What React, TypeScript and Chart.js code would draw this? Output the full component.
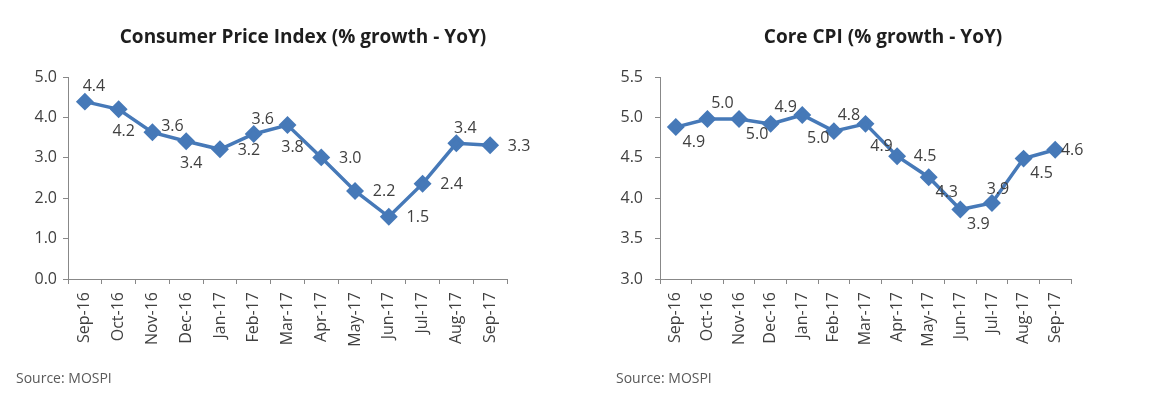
import React, { useEffect, useRef } from "react";
import { Chart, registerables } from "chart.js";
Chart.register(...registerables);

const MONTHS = ["Sep-16", "Oct-16", "Nov-16", "Dec-16", "Jan-17", "Feb-17", "Mar-17", "Apr-17", "May-17", "Jun-17", "Jul-17", "Aug-17", "Sep-17"];
const CPI_VALUES = [4.39, 4.2, 3.63, 3.41, 3.21, 3.59, 3.81, 3.01, 2.18, 1.54, 2.36, 3.36, 3.31];
const CORE_VALUES = [4.88, 4.98, 4.98, 4.92, 5.03, 4.83, 4.92, 4.52, 4.26, 3.86, 3.94, 4.49, 4.6];
const CPI_TICKS = [0, 1, 2, 3, 4, 5];
const CORE_TICKS = [3.0, 3.5, 4.0, 4.5, 5.0, 5.5];
const CPI_LABEL_POS = ["a", "b", "ar", "b", "r", "a", "b", "r", "r", "r", "r", "a", "r"];
const CORE_LABEL_POS = ["br", "a", "br", "a", "b", "a", "b", "r", "br", "br", "al", "br", "rs"];
const CPI_TITLE = "Consumer Price Index (% growth - YoY)";
const CORE_TITLE = "Core CPI (% growth - YoY)";
const SOURCE = "Source: MOSPI";

const FONT = "'Open Sans', 'DejaVu Sans', sans-serif";
const TEXT = "#404040";
const AXIS = "#888888";
const LINE = "#4679B8";

const LEFT_OFFSETS: Record<string, [number, number]> = {
  a: [9, -15],
  b: [5, 22],
  r: [29, 1],
  ar: [20, -6],
  br: [18, 14],
};
const RIGHT_OFFSETS: Record<string, [number, number]> = {
  a: [15, -16],
  al: [6, -14],
  b: [16, 23],
  br: [18, 15],
  r: [28, 0],
  rs: [17, 1],
};

function makeChart(
  canvas: HTMLCanvasElement,
  values: number[],
  ticks: number[],
  labelPos: string[],
  offsets: Record<string, [number, number]>,
  title: string,
  cfg: { axisWidth: number; rightPad: number; tickPad: number; sourceX: number }
) {
  const overlay = {
    id: "overlay",
    afterDatasetsDraw(chart: any) {
      const ctx = chart.ctx;
      ctx.save();
      const meta = chart.getDatasetMeta(0);
      ctx.font = `16px ${FONT}`;
      ctx.fillStyle = TEXT;
      ctx.textAlign = "center";
      ctx.textBaseline = "middle";
      meta.data.forEach((pt: any, i: number) => {
        const off = offsets[labelPos[i]] || [0, -15];
        ctx.fillText(values[i].toFixed(1), pt.x + off[0], pt.y + off[1]);
      });
      ctx.font = `bold 19px ${FONT}`;
      ctx.fillStyle = "#1e1e1e";
      ctx.fillText(title, 303, 38);
      ctx.font = `14px ${FONT}`;
      ctx.fillStyle = "#595959";
      ctx.textAlign = "left";
      ctx.fillText(SOURCE, cfg.sourceX, 379);
      ctx.restore();
    },
  };

  return new Chart(canvas, {
    type: "line",
    data: {
      labels: MONTHS,
      datasets: [
        {
          data: values,
          borderColor: LINE,
          backgroundColor: LINE,
          borderWidth: 3.5,
          pointStyle: "rectRot",
          pointRadius: 6.5,
          pointBackgroundColor: LINE,
          pointBorderColor: LINE,
          tension: 0,
        },
      ],
    },
    options: {
      animation: false,
      responsive: false,
      maintainAspectRatio: false,
      layout: { padding: { left: 0, right: cfg.rightPad, top: 77, bottom: 0 } },
      plugins: {
        legend: { display: false },
        tooltip: { enabled: false },
        title: { display: false },
      },
      scales: {
        x: {
          type: "category",
          offset: true,
          grid: { display: true, drawOnChartArea: false, offset: true, tickLength: 5, color: AXIS },
          border: { color: AXIS, width: 1 },
          ticks: {
            minRotation: 90,
            maxRotation: 90,
            autoSkip: false,
            padding: 8,
            color: TEXT,
            font: { family: FONT, size: 16 },
          },
          afterFit: (s: any) => {
            s.height = 116;
          },
        },
        y: {
          min: ticks[0],
          max: ticks[ticks.length - 1],
          afterBuildTicks: (s: any) => {
            s.ticks = ticks.map((v) => ({ value: v }));
          },
          grid: { display: true, drawOnChartArea: false, tickLength: 5, color: AXIS },
          border: { color: AXIS, width: 1 },
          ticks: {
            padding: cfg.tickPad,
            color: TEXT,
            font: { family: FONT, size: 16 },
            callback: (v: any) => Number(v).toFixed(1),
          },
          afterFit: (s: any) => {
            s.width = cfg.axisWidth;
          },
        },
      },
    },
    plugins: [overlay],
  } as any);
}

export default function App() {
  const leftRef = useRef<HTMLCanvasElement>(null);
  const rightRef = useRef<HTMLCanvasElement>(null);

  useEffect(() => {
    const c1 = makeChart(leftRef.current!, CPI_VALUES, CPI_TICKS, CPI_LABEL_POS, LEFT_OFFSETS, CPI_TITLE, {
      axisWidth: 68,
      rightPad: 73,
      tickPad: 6,
      sourceX: 16,
    });
    const c2 = makeChart(rightRef.current!, CORE_VALUES, CORE_TICKS, CORE_LABEL_POS, RIGHT_OFFSETS, CORE_TITLE, {
      axisWidth: 80,
      rightPad: 89,
      tickPad: 12,
      sourceX: 36,
    });
    return () => {
      c1.destroy();
      c2.destroy();
    };
  }, []);

  return (
    <div style={{ position: "fixed", left: 0, top: 0, width: 1160, height: 395, background: "#ffffff" }}>
      <canvas ref={leftRef} width={580} height={395} style={{ position: "absolute", left: 0, top: 0, width: 580, height: 395 }} />
      <canvas ref={rightRef} width={580} height={395} style={{ position: "absolute", left: 580, top: 0, width: 580, height: 395 }} />
    </div>
  );
}
